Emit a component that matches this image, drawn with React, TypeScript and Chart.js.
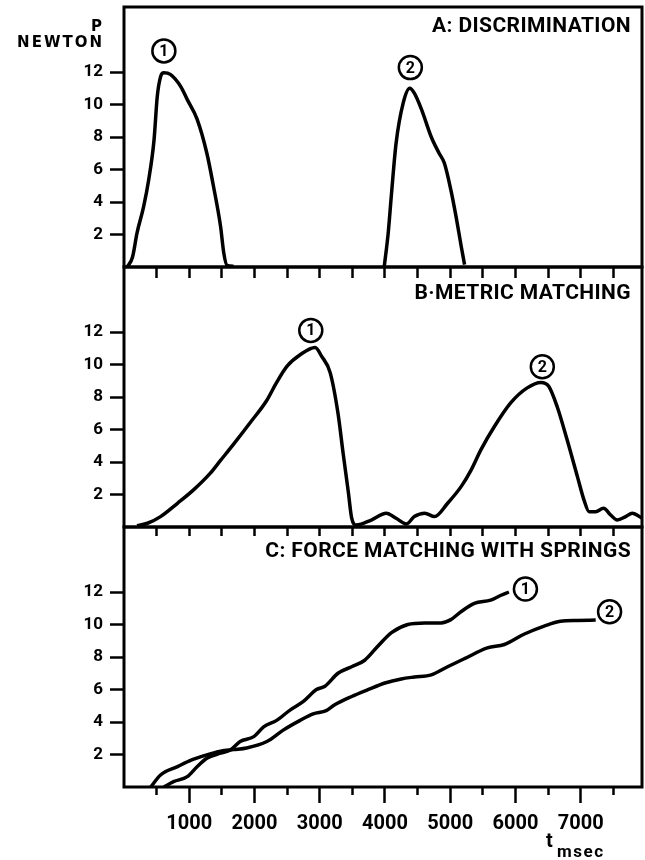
import React, { useEffect, useRef } from "react";
import { Chart, registerables } from "chart.js";
Chart.register(...registerables);

// ---- Data (time in ms, force in Newton) ----
const aTime1 = [50, 130, 200, 300, 380, 460, 510, 560, 610, 710, 870, 970, 1120, 1270, 1370, 1480, 1530, 1580, 1680];
const aForce1 = [0, 0.6, 2.1, 3.7, 5.4, 7.8, 10.5, 11.7, 11.95, 11.85, 11.1, 10.3, 9.1, 7.0, 5.0, 2.5, 0.85, 0.1, 0.05];
const aTime2 = [3990, 4050, 4100, 4170, 4280, 4380, 4450, 4560, 4710, 4830, 4910, 5010, 5090, 5170, 5220];
const aForce2 = [0.05, 2.1, 4.5, 7.6, 10.1, 11.0, 10.7, 9.7, 8.0, 7.0, 6.4, 4.75, 3.1, 1.25, 0.15];

const bTime = [200, 360, 560, 820, 1070, 1320, 1480, 1680, 1930, 2190, 2340, 2500, 2700, 2930, 3030, 3160, 3280, 3360, 3440, 3490, 3560, 3790, 4020, 4170, 4330, 4450, 4610, 4760, 4960, 5170, 5320, 5470, 5680, 5930, 6180, 6390, 6510, 6640, 6790, 6950, 7050, 7130, 7230, 7350, 7460, 7560, 7690, 7790, 7940];
const bForce = [0.08, 0.23, 0.64, 1.46, 2.3, 3.3, 4.1, 5.1, 6.4, 7.8, 8.9, 9.9, 10.6, 11.05, 10.5, 9.5, 7.0, 4.5, 2.1, 0.54, 0.12, 0.43, 0.85, 0.54, 0.19, 0.64, 0.85, 0.64, 1.46, 2.5, 3.5, 4.75, 6.2, 7.65, 8.56, 8.9, 8.66, 7.4, 5.4, 3.1, 1.67, 0.94, 0.94, 1.15, 0.74, 0.43, 0.64, 0.85, 0.54];

const cTime1 = [610, 760, 970, 1120, 1270, 1480, 1630, 1780, 1990, 2140, 2340, 2550, 2750, 2950, 3080, 3280, 3490, 3690, 3890, 4100, 4350, 4610, 4860, 5010, 5170, 5370, 5620, 5780, 5900];
const cForce1 = [0, 0.33, 0.64, 1.25, 1.77, 2.08, 2.28, 2.8, 3.1, 3.7, 4.1, 4.75, 5.27, 6.0, 6.2, 7.0, 7.4, 7.8, 8.66, 9.5, 10.0, 10.1, 10.1, 10.3, 10.8, 11.3, 11.5, 11.8, 12.0];
const cTime2 = [410, 560, 820, 1020, 1270, 1480, 1680, 1880, 2190, 2440, 2700, 2900, 3100, 3230, 3490, 3740, 4000, 4250, 4450, 4710, 4960, 5220, 5570, 5830, 6130, 6440, 6690, 6950, 7230];
const cForce2 = [0, 0.74, 1.25, 1.64, 1.98, 2.2, 2.3, 2.4, 2.8, 3.5, 4.1, 4.5, 4.7, 5.06, 5.57, 5.99, 6.4, 6.65, 6.77, 6.9, 7.4, 7.9, 8.56, 8.77, 9.4, 9.9, 10.2, 10.25, 10.27];

// circled curve numbers (data coordinates)
const markTexts = ["1", "2"];
const aMarkTime = [611, 4389];
const aMarkForce = [13.3, 12.27];
const bMarkTime = [2863, 6412];
const bMarkForce = [12.1, 9.86];
const cMarkTime = [6153, 7443];
const cMarkForce = [12.18, 10.79];

const panelTitles = ["A: DISCRIMINATION", "B\u00B7METRIC MATCHING", "C: FORCE MATCHING WITH SPRINGS"];
const yTickValues = [2, 4, 6, 8, 10, 12];
const xTickValues = [500, 1000, 1500, 2000, 2500, 3000, 3500, 4000, 4500, 5000, 5500, 6000, 6500, 7000, 7500];
const xTickLabels = ["", "1000", "", "2000", "", "3000", "", "4000", "", "5000", "", "6000", "", "7000", ""];
const yUnitTop = "P";
const yUnitBottom = "NEWTON";
const xUnitMain = "t";
const xUnitSub = "msec";

const X_MAX = 7940;
const Y_MAX = 16;

type PanelCfg = {
  series: { t: number[]; f: number[] }[];
  marksT: number[];
  marksF: number[];
  title: string;
  titleDy: number;
  xAxisHeight: number;
  tickLen: number;
  showXLabels: boolean;
  yUnit: boolean;
  xUnit: boolean;
};

function makePlugin(cfg: PanelCfg) {
  return {
    id: "decor",
    afterDraw(chart: any) {
      const { ctx, chartArea: ca, scales } = chart;
      ctx.save();
      ctx.strokeStyle = "#000";
      ctx.fillStyle = "#000";
      ctx.lineWidth = 3;
      ctx.strokeRect(ca.left, ca.top, ca.right - ca.left, ca.bottom - ca.top);

      ctx.font = "bold 21px Roboto";
      ctx.textAlign = "right";
      ctx.textBaseline = "middle";
      (ctx as any).letterSpacing = "0.4px";
      ctx.fillText(cfg.title, ca.right - 11, ca.top + cfg.titleDy);
      (ctx as any).letterSpacing = "0px";

      cfg.marksT.forEach((t, i) => {
        const px = scales.x.getPixelForValue(t);
        const py = scales.y.getPixelForValue(cfg.marksF[i]);
        ctx.beginPath();
        ctx.lineWidth = 2.5;
        ctx.arc(px, py, 11.5, 0, Math.PI * 2);
        ctx.stroke();
        ctx.font = "bold 16px Roboto";
        ctx.textAlign = "center";
        ctx.textBaseline = "middle";
        ctx.fillText(markTexts[i], px, py + 1);
      });

      if (cfg.yUnit) {
        ctx.textAlign = "right";
        ctx.textBaseline = "middle";
        ctx.font = "bold 15px 'DejaVu Sans'";
        ctx.fillText(yUnitTop, ca.left - 22, ca.top + 20);
        (ctx as any).letterSpacing = "2px";
        ctx.fillText(yUnitBottom, ca.left - 20, ca.top + 36);
        (ctx as any).letterSpacing = "0px";
      }
      if (cfg.xUnit) {
        ctx.textAlign = "left";
        ctx.textBaseline = "middle";
        ctx.font = "bold 20px Roboto";
        ctx.fillText(xUnitMain, ca.right - 96, ca.bottom + 55);
        ctx.font = "bold 17px Roboto";
        (ctx as any).letterSpacing = "1.5px";
        ctx.fillText(xUnitSub, ca.right - 85, ca.bottom + 66);
        (ctx as any).letterSpacing = "0px";
      }
      ctx.restore();
    },
  };
}

function buildChart(canvas: HTMLCanvasElement, cfg: PanelCfg) {
  const datasets = cfg.series.map((s) => ({
    data: s.t.map((t, i) => ({ x: t, y: s.f[i] })),
    borderColor: "#000",
    borderWidth: 3.5,
    pointRadius: 0,
    fill: false,
    cubicInterpolationMode: "monotone" as const,
  }));
  return new Chart(canvas, {
    type: "line",
    data: { datasets },
    options: {
      animation: false,
      responsive: false,
      devicePixelRatio: 1,
      layout: { padding: { top: 7, right: 3, left: 0, bottom: 0 } },
      plugins: { legend: { display: false }, tooltip: { enabled: false }, title: { display: false } },
      scales: {
        x: {
          type: "linear",
          position: "bottom",
          min: 0,
          max: X_MAX,
          afterBuildTicks: (s: any) => {
            s.ticks = xTickValues.map((v) => ({ value: v }));
          },
          afterFit: (s: any) => {
            s.height = cfg.xAxisHeight;
            s.paddingLeft = 0;
            s.paddingRight = 0;
          },
          border: { display: false },
          grid: {
            drawOnChartArea: false,
            drawTicks: true,
            tickLength: cfg.tickLen,
            tickWidth: 2.5,
            tickColor: "#000",
            tickBorderDash: (c: any) =>
              cfg.showXLabels && c.tick && c.tick.value % 1000 !== 0 ? [8, 40] : [],
          },
          ticks: {
            display: cfg.showXLabels,
            autoSkip: false,
            maxRotation: 0,
            color: "#000",
            padding: 9,
            font: { family: "Roboto", size: 20, weight: "bold" },
            callback: (_v: any, i: number) => xTickLabels[i],
          },
        },
        y: {
          type: "linear",
          min: 0,
          max: Y_MAX,
          afterBuildTicks: (s: any) => {
            s.ticks = yTickValues.map((v) => ({ value: v }));
          },
          afterFit: (s: any) => {
            s.width = 124;
            s.paddingTop = 0;
            s.paddingBottom = 0;
          },
          border: { display: false },
          grid: {
            drawOnChartArea: false,
            drawTicks: true,
            tickLength: 14,
            tickWidth: 2.5,
            tickColor: "#000",
          },
          ticks: {
            color: "#000",
            padding: 7,
            font: { family: "Roboto", size: 17, weight: "bold" },
          },
        },
      },
    } as any,
    plugins: [makePlugin(cfg)],
  });
}

const panels: { top: number; height: number; cfg: PanelCfg }[] = [
  {
    top: 0,
    height: 290,
    cfg: {
      series: [
        { t: aTime1, f: aForce1 },
        { t: aTime2, f: aForce2 },
      ],
      marksT: aMarkTime,
      marksF: aMarkForce,
      title: panelTitles[0],
      titleDy: 20,
      xAxisHeight: 23,
      tickLen: 11,
      showXLabels: false,
      yUnit: true,
      xUnit: false,
    },
  },
  {
    top: 260,
    height: 290,
    cfg: {
      series: [{ t: bTime, f: bForce }],
      marksT: bMarkTime,
      marksF: bMarkForce,
      title: panelTitles[1],
      titleDy: 27,
      xAxisHeight: 23,
      tickLen: 9,
      showXLabels: false,
      yUnit: false,
      xUnit: false,
    },
  },
  {
    top: 520,
    height: 340,
    cfg: {
      series: [
        { t: cTime1, f: cForce1 },
        { t: cTime2, f: cForce2 },
      ],
      marksT: cMarkTime,
      marksF: cMarkForce,
      title: panelTitles[2],
      titleDy: 25,
      xAxisHeight: 73,
      tickLen: 16,
      showXLabels: true,
      yUnit: false,
      xUnit: true,
    },
  },
];

export default function App() {
  const r0 = useRef<HTMLCanvasElement>(null);
  const r1 = useRef<HTMLCanvasElement>(null);
  const r2 = useRef<HTMLCanvasElement>(null);
  const refs = [r0, r1, r2];

  useEffect(() => {
    const charts = panels.map((p, i) => buildChart(refs[i].current as HTMLCanvasElement, p.cfg));
    return () => charts.forEach((c) => c.destroy());
  }, []);

  return (
    <div style={{ position: "absolute", left: 0, top: 0, width: 645, height: 860, background: "#fff", overflow: "hidden" }}>
      {panels.map((p, i) => (
        <canvas
          key={i}
          ref={refs[i]}
          width={645}
          height={p.height}
          style={{ position: "absolute", left: 0, top: p.top, width: 645, height: p.height }}
        />
      ))}
    </div>
  );
}
